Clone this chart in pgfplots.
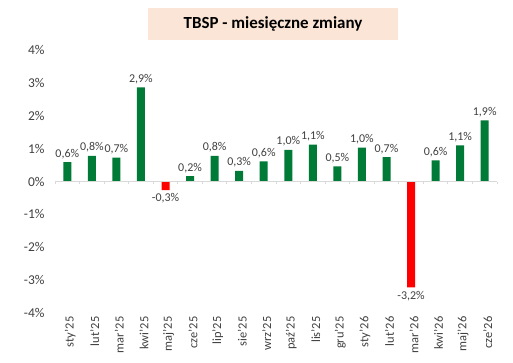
\documentclass[border=0pt]{standalone}
\usepackage{pgfplots}
\pgfplotsset{compat=1.18}
\usepackage{fontspec}
\setmainfont{Carlito}
\definecolor{barGreen}{HTML}{007A37}
\definecolor{barRed}{HTML}{FF0000}
\definecolor{titleFill}{HTML}{FBE5D6}
\definecolor{txt}{HTML}{404040}
\definecolor{axisGray}{HTML}{D9D9D9}
\begin{document}
\begin{tikzpicture}
\useasboundingbox (0,0) rectangle (513bp,363bp);
\node[fill=titleFill, minimum width=250bp, minimum height=32bp, inner sep=0pt,
      font=\fontsize{17}{20}\selectfont\bfseries] at (273bp,339bp) {TBSP - miesięczne zmiany};
\begin{axis}[
  at={(55bp,50bp)}, anchor=south west,
  scale only axis, width=442bp, height=263bp,
  xmin=-0.5, xmax=17.5, ymin=-4, ymax=4,
  ybar, bar width=8bp, bar shift=0pt,
  axis line style={draw=none},
  major tick length=0pt,
  xtick={0,...,17},
  xticklabels={sty'25,lut'25,mar'25,kwi'25,maj'25,cze'25,lip'25,sie'25,wrz'25,paź'25,lis'25,gru'25,sty'26,lut'26,mar'26,kwi'26,maj'26,cze'26},
  xticklabel style={rotate=90, anchor=east, font=\fontsize{12.5}{14}\selectfont, text=txt, yshift=-3bp},
  ytick={-4,...,4},
  yticklabel={\pgfmathprintnumber{\tick}\%},
  yticklabel style={font=\fontsize{13.5}{16}\selectfont, text=txt, xshift=-7bp},
  /pgf/number format/assume math mode=true,
  nodes near coords={\pgfmathprintnumber[fixed, fixed zerofill, precision=1, use comma, assume math mode=true]{\pgfplotspointmeta}\%},
  nodes near coords style={font=\fontsize{12}{14}\selectfont, text=txt},
  point meta=y,
  clip=false,
]
\addplot[fill=barGreen, draw=none] coordinates {
(0,0.59) (1,0.78) (2,0.73) (3,2.86) (5,0.16) (6,0.78) (7,0.32) (8,0.61) (9,0.96)
(10,1.12) (11,0.46) (12,1.03) (13,0.74) (15,0.64) (16,1.10) (17,1.86)};
\addplot[fill=barRed, draw=none] coordinates {(4,-0.26) (14,-3.22)};
\draw[axisGray, line width=0.8pt] (axis cs:-0.5,0) -- (axis cs:17.5,0);
\foreach \k in {-0.5,0.5,...,17.5}{
  \edef\tmp{\noexpand\draw[axisGray, line width=0.8pt] (axis cs:\k,0) -- (axis cs:\k,-0.09);}\tmp
}
\end{axis}
\end{tikzpicture}
\end{document}
